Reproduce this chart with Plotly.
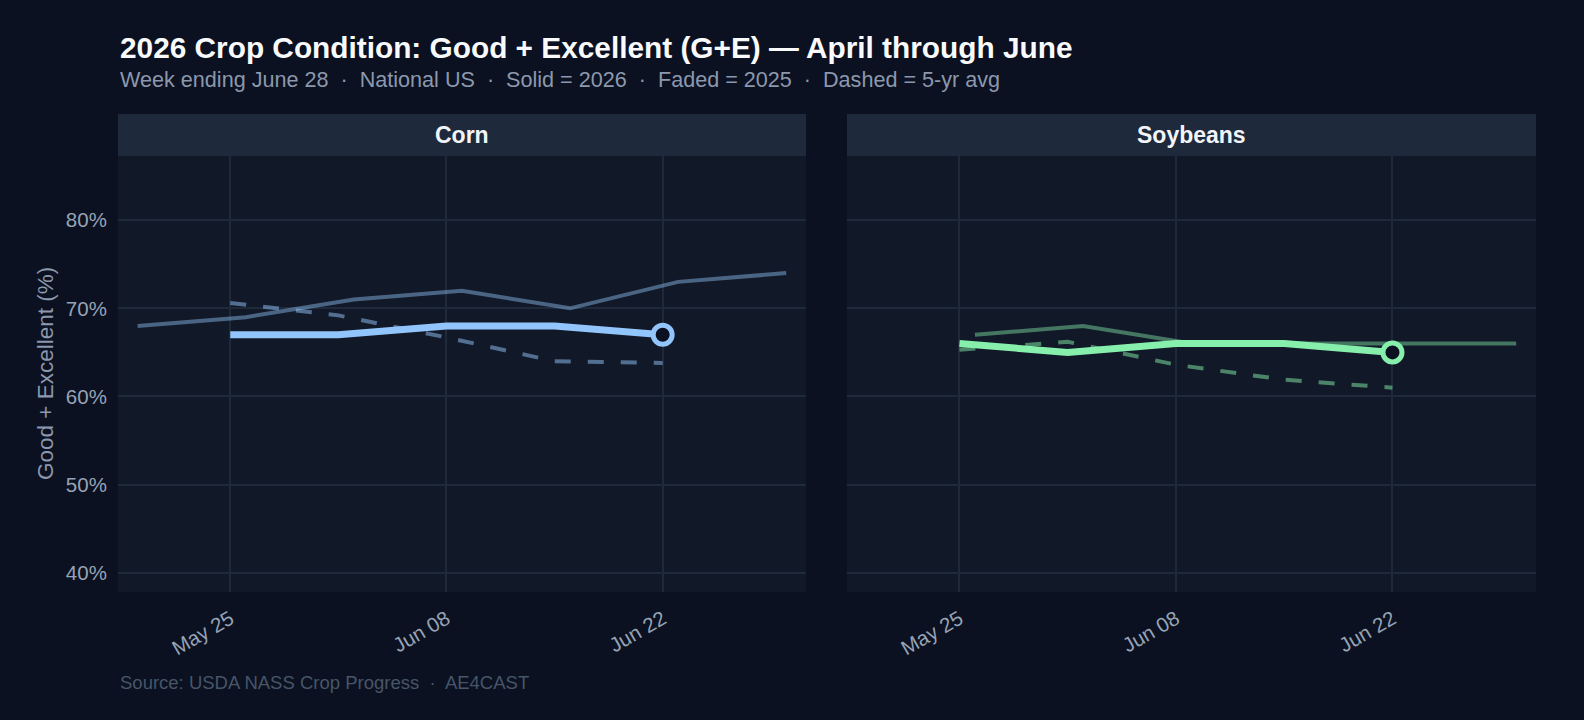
import plotly.graph_objects as go

# ---------------- data ----------------
dates_2026 = ["2026-05-25", "2026-06-01", "2026-06-08", "2026-06-15", "2026-06-22"]
dates_2025 = ["2026-05-19", "2026-05-26", "2026-06-02", "2026-06-09", "2026-06-16", "2026-06-23", "2026-06-30"]

corn_2026 = [67, 67, 68, 68, 67]
corn_2025 = [68, 69, 71, 72, 70, 73, 74]
corn_5yr = [70.6, 69.2, 66.7, 64.0, 63.8]

soy_2026 = [66, 65, 66, 66, 65]
soy_2025 = [None, 67, 68, 66, 66, 66, 66]
soy_5yr = [65.3, 66.2, 63.6, 61.9, 61.0]

panels = ["Corn", "Soybeans"]
x_tickvals = ["2026-05-25", "2026-06-08", "2026-06-22"]
x_ticktext = ["May 25", "Jun 08", "Jun 22"]
y_tickvals = [40, 50, 60, 70, 80]
y_ticktext = ["40%", "50%", "60%", "70%", "80%"]

title = "2026 Crop Condition: Good + Excellent (G+E) \u2014 April through June"
subtitle = ("Week ending June 28  \u00b7  National US  \u00b7  Solid = 2026  \u00b7  "
            "Faded = 2025  \u00b7  Dashed = 5-yr avg")
caption = "Source: USDA NASS Crop Progress  \u00b7  AE4CAST"
y_title = "Good + Excellent (%)"

# ---------------- style ----------------
FONT = "Liberation Sans"
PAPER = "#0b1120"
PLOT = "#111827"
STRIP = "#1e293b"
GRID = "#1e293a"
TICK = "#97a3b6"
corn_rgb = (147, 197, 253)
soy_rgb = (134, 239, 172)

W, H = 1584, 720
ML, MR, MT, MB = 118, 48, 156, 128
PW, PH = W - ML - MR, H - MT - MB


def rgba(c, a):
    return f"rgba({c[0]},{c[1]},{c[2]},{a})"


fig = go.Figure()

series = [
    ("x", "y", corn_rgb, corn_2026, corn_2025, corn_5yr),
    ("x2", "y2", soy_rgb, soy_2026, soy_2025, soy_5yr),
]
for xa, ya, col, s26, s25, s5 in series:
    fig.add_trace(go.Scatter(x=dates_2025, y=s25, xaxis=xa, yaxis=ya, mode="lines",
                             line=dict(color=rgba(col, 0.44), width=4),
                             hoverinfo="skip", showlegend=False))
    fig.add_trace(go.Scatter(x=dates_2026, y=s5, xaxis=xa, yaxis=ya, mode="lines",
                             line=dict(color=rgba(col, 0.5), width=4, dash="16px,17px"),
                             hoverinfo="skip", showlegend=False))
    fig.add_trace(go.Scatter(x=dates_2026, y=s26, xaxis=xa, yaxis=ya, mode="lines",
                             line=dict(color=rgba(col, 1), width=7),
                             hoverinfo="skip", showlegend=False))
    fig.add_trace(go.Scatter(x=[dates_2026[-1]], y=[s26[-1]], xaxis=xa, yaxis=ya, mode="markers",
                             marker=dict(size=19, color=PAPER, line=dict(color=rgba(col, 1), width=5)),
                             hoverinfo="skip", showlegend=False))

d1 = (806 - ML) / PW
d2 = (847 - ML) / PW
xcommon = dict(type="date", range=["2026-05-17 17:30", "2026-07-01 06:45"],
               tickvals=x_tickvals, ticktext=x_ticktext, tickangle=-30,
               tickfont=dict(family=FONT, size=20.5, color=TICK),
               showgrid=True, gridcolor=GRID, gridwidth=1.5, zeroline=False,
               showline=False, ticks="outside", ticklen=6, tickcolor="rgba(0,0,0,0)")
ycommon = dict(range=[37.82, 87.28], tickvals=y_tickvals, ticktext=y_ticktext,
               tickfont=dict(family=FONT, size=20.5, color=TICK),
               showgrid=True, gridcolor=GRID, gridwidth=1.5, zeroline=False,
               showline=False, ticks="outside", ticklen=6, tickcolor="rgba(0,0,0,0)")

fig.update_layout(
    width=W, height=H,
    margin=dict(l=ML, r=MR, t=MT, b=MB, pad=0),
    paper_bgcolor=PAPER, plot_bgcolor=PLOT,
    xaxis=dict(domain=[0, d1], anchor="y", **xcommon),
    xaxis2=dict(domain=[d2, 1], anchor="y2", **xcommon),
    yaxis=dict(domain=[0, 1], anchor="x", **ycommon),
    yaxis2=dict(domain=[0, 1], anchor="x2", showticklabels=False, **ycommon),
    showlegend=False,
)


def py(ypix):
    return (H - MB - ypix) / PH


shapes = []
annotations = []
strip_top = 1 + 42 / PH
for i, (name, xa) in enumerate(zip(panels, ["x", "x2"])):
    shapes.append(dict(type="rect", xref=f"{xa} domain", yref="paper", x0=0, x1=1,
                       y0=1, y1=strip_top, fillcolor=STRIP, line=dict(width=0), layer="below"))
    annotations.append(dict(text=f"<b>{name}</b>", xref=f"{xa} domain", yref="paper",
                            x=0.5, y=1 + 21 / PH, xanchor="center", yanchor="middle",
                            showarrow=False, font=dict(family=FONT, size=23, color="#f1f5f9")))

annotations += [
    dict(text=f"<b>{title}</b>", xref="paper", yref="paper", x=0, y=py(47.5),
         xanchor="left", yanchor="middle", showarrow=False,
         font=dict(family=FONT, size=29.8, color="#f8fafc")),
    dict(text=subtitle, xref="paper", yref="paper", x=0, y=py(79),
         xanchor="left", yanchor="middle", showarrow=False,
         font=dict(family=FONT, size=21.6, color="#8b98ad")),
    dict(text=caption, xref="paper", yref="paper", x=0, y=py(682),
         xanchor="left", yanchor="middle", showarrow=False,
         font=dict(family=FONT, size=18.5, color="#475569")),
    dict(text=y_title, xref="paper", yref="paper", x=(45 - ML) / PW, y=0.5,
         xanchor="center", yanchor="middle", textangle=-90, showarrow=False,
         font=dict(family=FONT, size=22.5, color="#8b98ad")),
]

fig.update_layout(shapes=shapes, annotations=annotations)
fig.write_html("out.html")
